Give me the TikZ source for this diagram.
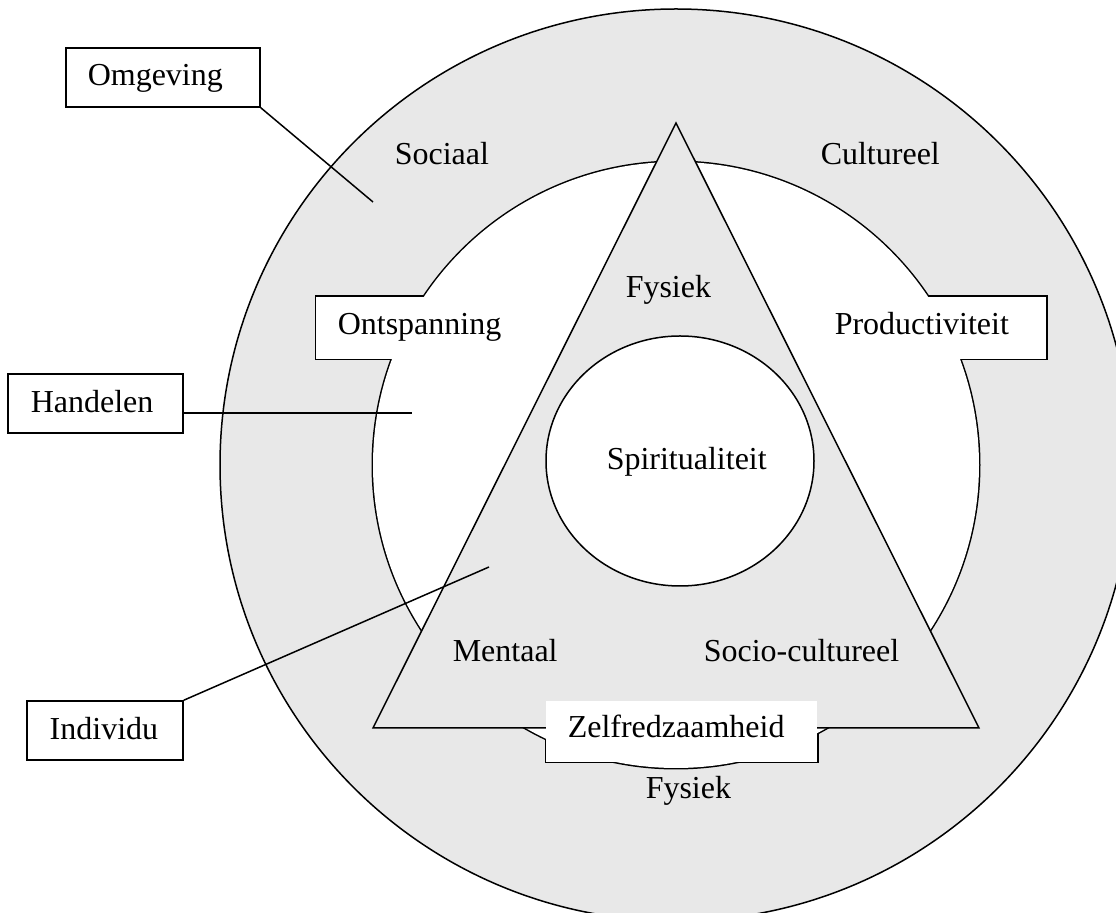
\documentclass[tikz,border=0pt]{standalone}
\usepackage{fontspec}
\setmainfont{Liberation Serif}
\usetikzlibrary{calc}
\definecolor{ringgray}{RGB}{232,232,232}
\begin{document}
\begin{tikzpicture}[x=0.5pt,y=-0.5pt, line width=0.75pt,
  font=\fontsize{16pt}{19pt}\selectfont,
  lbox/.style={draw, fill=white, inner sep=0pt, minimum height=29.5pt},
  ubox/.style={draw, fill=white, line width=1.5pt, inner sep=0pt, outer sep=0pt},
  lbl/.style={anchor=base west, inner sep=0pt}]
\clip (0,0) rectangle (1116,913);
% outer ring (Omgeving)
\fill[ringgray] (676,465) circle[radius=228pt];
\draw (676,465) circle[radius=228pt];
% white ring (Handelen) united with its label boxes
\draw[line width=1.5pt, fill=white] (676,465) circle[radius=151.5pt];
\node[ubox, minimum width=112pt, minimum height=31pt] (ontbox) at (428,328) {};
\node[ubox, minimum width=116.5pt, minimum height=31pt] (probox) at (929.5,328) {};
\node[ubox, minimum width=135.5pt, minimum height=30.5pt] (zelbox) at (681.5,731.5) {};
\fill[white] (676,465) circle[radius=151.5pt];
\fill[white] (ontbox.south west) rectangle (ontbox.north east);
\fill[white] (probox.south west) rectangle (probox.north east);
\fill[white] (zelbox.south west) rectangle (zelbox.north east);
% triangle (Individu)
\filldraw[fill=ringgray] (676,123) -- (979,728) -- (373,728) -- cycle;
\fill[white] (zelbox.south west) rectangle (zelbox.north east);
% centre
\filldraw[fill=white] (680,461) ellipse[x radius=67pt, y radius=62.5pt];
% labels
\node[lbl] (sociaal) at (394,165) {Sociaal};
\node[lbl] (cult) at (820,165) {Cultureel};
\node[lbl] (fys1) at (625,298) {Fysiek};
\node[lbl] (ont) at (337,335) {Ontspanning};
\node[lbl] (prod) at (834,335) {Productiviteit};
\node[lbl] (spir) at (606,470) {Spiritualiteit};
\node[lbl] (ment) at (452,662) {Mentaal};
\node[lbl] (socc) at (703,662) {Socio-cultureel};
\node[lbl] (zelf) at (567,738) {Zelfredzaamheid};
\node[lbl] (fys2) at (645,799) {Fysiek};
% legend boxes and leaders
\node[lbox, minimum width=97pt] (omg) at (163,77.5) {};
\node[lbox, minimum width=87.5pt] (han) at (95.5,403.5) {};
\node[lbox, minimum width=78pt] (ind) at (105,730.5) {};
\node[lbl] (omgt) at (87,86) {Omgeving};
\node[lbl] (hant) at (30,413) {Handelen};
\node[lbl] (indt) at (49,740) {Individu};
\coordinate (c1) at (373,202);
\coordinate (c2) at (412,413);
\coordinate (c3) at (489,567);
\draw (omg.south east) -- (c1);
\draw (c2 -| han.east) -- (c2);
\draw (ind.north east) -- (c3);
\end{tikzpicture}
\end{document}
